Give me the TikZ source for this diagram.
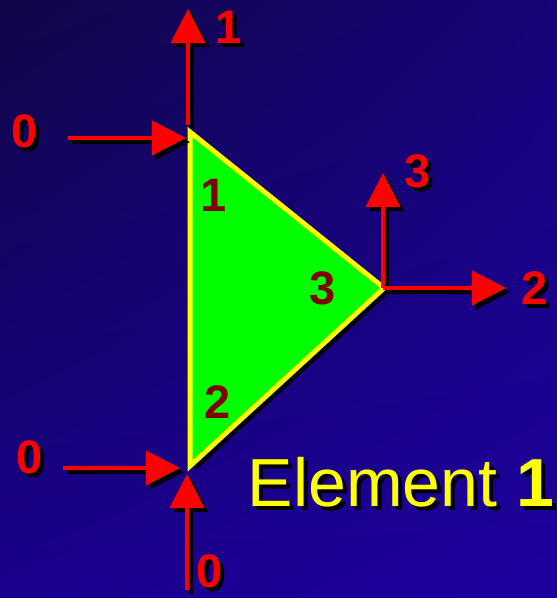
\documentclass[tikz,border=0pt]{standalone}
\usepackage{fontspec}
\setmainfont{Liberation Sans}
\usetikzlibrary{arrows.meta,shadings}
\definecolor{bgTL}{RGB}{16,6,72}
\definecolor{bgTR}{RGB}{22,4,120}
\definecolor{bgBL}{RGB}{26,0,140}
\definecolor{bgBR}{RGB}{30,0,160}
\definecolor{arrowred}{RGB}{255,0,0}
\definecolor{innerred}{RGB}{128,0,0}
\definecolor{trigreen}{RGB}{0,255,0}
\definecolor{triyellow}{RGB}{255,255,0}
\tikzset{
  dofarrow/.style={draw=arrowred, line width=4pt, -{Triangle[length=34pt,width=34pt]}, fill=arrowred},
  dofshadow/.style={draw=black, line width=4pt, -{Triangle[length=34pt,width=34pt]}, fill=black},
  doflabel/.style={text=arrowred, font=\bfseries\fontsize{47}{47}\selectfont, inner sep=0pt},
  shadowlabel/.style={text=black, font=\bfseries\fontsize{47}{47}\selectfont, inner sep=0pt},
  nodelabel/.style={text=innerred, font=\bfseries\fontsize{47}{47}\selectfont, inner sep=0pt},
  elemtext/.style={inner sep=0pt, font=\fontsize{68}{68}\selectfont},
}
\begin{document}
\begin{tikzpicture}[x=1pt,y=-1pt]
\shade[upper left=bgTL, upper right=bgTR, lower left=bgBL, lower right=bgBR] (0,0) rectangle (557,598);
\useasboundingbox (0,0) rectangle (557,598);
% vertices
\coordinate (v1) at (190,132);
\coordinate (v2) at (190,466);
\coordinate (v3) at (384,288);
% arrow coordinates
\coordinate (a1s) at (188,125);
\coordinate (a1e) at (188,9);
\coordinate (a0ts) at (68,138);
\coordinate (a0te) at (186,138);
\coordinate (a3s) at (383,288);
\coordinate (a3e) at (383,173);
\coordinate (a2s) at (383,288);
\coordinate (a2e) at (506,288);
\coordinate (a0bs) at (63,468);
\coordinate (a0be) at (180,468);
\coordinate (a0vs) at (187,590);
\coordinate (a0ve) at (187,474);
% triangle shadow
\fill[black] ([shift={(5,5)}]v1) -- ([shift={(5,5)}]v3) -- ([shift={(5,5)}]v2) -- cycle;
% triangle
\draw[fill=trigreen, draw=triyellow, line width=5pt, line join=miter] (v1) -- (v3) -- (v2) -- cycle;
% arrow shadows
\foreach \s/\e in {a1s/a1e, a0ts/a0te, a3s/a3e, a2s/a2e, a0bs/a0be, a0vs/a0ve}{
  \draw[dofshadow] ([shift={(4,4)}]\s) -- ([shift={(4,4)}]\e);
}
% arrows
\draw[dofarrow] (a1s) -- (a1e);
\draw[dofarrow] (a0ts) -- (a0te);
\draw[dofarrow] (a3s) -- (a3e);
\draw[dofarrow] (a2s) -- (a2e);
\draw[dofarrow] (a0bs) -- (a0be);
\draw[dofarrow] (a0vs) -- (a0ve);
% labels with shadows
\foreach \x/\y/\t in {229/27/1, 25/131/0, 418/171/3, 535/288/2, 30/457/0, 210/571/0}{
  \node[shadowlabel] at (\x+4,\y+4) {\t};
}
\node[doflabel] (l1) at (229,27) {1};
\node[doflabel] (l0t) at (25,131) {0};
\node[doflabel] (l3) at (418,171) {3};
\node[doflabel] (l2) at (535,288) {2};
\node[doflabel] (l0b) at (30,457) {0};
\node[doflabel] (l0v) at (210,571) {0};
% inner node labels
\node[nodelabel] (n1) at (214,195) {1};
\node[nodelabel] (n3) at (323,288) {3};
\node[nodelabel] (n2) at (218,402) {2};
% element label
\node[elemtext, text=black] at (405,486) {Element \textbf{1}};
\node[elemtext, text=triyellow] (elem) at (401,482) {Element \textbf{1}};
\end{tikzpicture}
\end{document}
